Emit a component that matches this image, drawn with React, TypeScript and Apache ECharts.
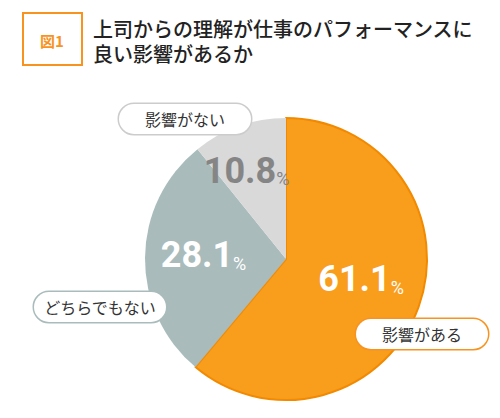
import React, { useEffect, useRef } from "react";
import * as echarts from "echarts";

const categories = ["影響がある", "どちらでもない", "影響がない"];
const values = [61.1, 28.1, 10.8];
const sliceColors = ["#f99d1c", "#a9bbbb", "#d9d9d9"];
const valueTextColors = ["#ffffff", "#ffffff", "#858585"];
const calloutBorders = ["#f7931e", "#a9bbbb", "#cccccc"];
const titleLines = ["上司からの理解が仕事のパフォーマンスに", "良い影響があるか"];
const figureLabel = "図1";

const calloutPos = [
  [422, 334],
  [100, 307],
  [185, 119],
];
const valueOffsets = [
  [6, -5],
  [-9, -3],
  [-15, -19],
];

const NUM_FONT = '"Roboto", "Liberation Sans", sans-serif';
const JP_FONT = '"Noto Sans CJK JP", "Noto Sans", sans-serif';

export default function App() {
  const ref = useRef<HTMLDivElement>(null);
  useEffect(() => {
    if (!ref.current) return;
    const chart = echarts.init(ref.current, null, { renderer: "svg" });
    const valueData = categories.map((name, i) => ({
      name,
      value: values[i],
      itemStyle: {
        color: sliceColors[i],
        borderColor: i === 0 ? "#f28a00" : sliceColors[i],
        borderWidth: i === 0 ? 2 : 0,
      },
      label: {
        rich: {
          v: {
            fontSize: 36,
            fontWeight: "bold",
            fontFamily: NUM_FONT,
            color: valueTextColors[i],
            lineHeight: 40,
          },
          p: {
            fontSize: 18,
            fontWeight: "normal",
            fontFamily: NUM_FONT,
            color: valueTextColors[i],
            lineHeight: 24,
            verticalAlign: "bottom",
            padding: [0, 0, 3, 0],
          },
        },
      },
    }));
    const calloutData = categories.map((name, i) => ({
      name,
      value: values[i],
      itemStyle: { color: "rgba(0,0,0,0)" },
      label: { borderColor: calloutBorders[i] },
    }));
    chart.setOption({
      animation: false,
      graphic: [
        {
          type: "rect",
          shape: { x: 23, y: 13, width: 59, height: 52 },
          style: { fill: "#fff", stroke: "#f7931e", lineWidth: 2 },
        },
        {
          type: "text",
          x: 52,
          y: 40,
          style: {
            text: figureLabel,
            fill: "#f7931e",
            font: `bold 15px ${JP_FONT}`,
            align: "center",
            verticalAlign: "middle",
          },
        },
        {
          type: "text",
          x: 93,
          y: 16,
          style: {
            text: titleLines.join("\n"),
            fill: "#222",
            font: `500 20px ${JP_FONT}`,
            lineHeight: 25,
            verticalAlign: "top",
          },
        },
      ],
      series: [
        {
          type: "pie",
          center: [286, 259],
          radius: 141,
          startAngle: 90,
          clockwise: true,
          silent: true,
          label: {
            show: true,
            position: "inside",
            formatter: (p: any) => `{v|${p.value.toFixed(1)}}{p|%}`,
          },
          labelLine: { show: false },
          labelLayout: (params: any) => ({
            dx: valueOffsets[params.dataIndex][0],
            dy: valueOffsets[params.dataIndex][1],
          }),
          data: valueData,
          z: 2,
        },
        {
          type: "pie",
          center: [286, 259],
          radius: 141,
          startAngle: 90,
          clockwise: true,
          silent: true,
          label: {
            show: true,
            position: "outside",
            formatter: "{b}",
            fontFamily: JP_FONT,
            fontSize: 16,
            color: "#333",
            backgroundColor: "#fff",
            borderWidth: 1.5,
            borderRadius: 16,
            width: 114,
            height: 30,
            lineHeight: 30,
            align: "center",
            overflow: "none",
            padding: [0, 9],
          },
          labelLine: { show: false },
          labelLayout: (params: any) => ({
            x: calloutPos[params.dataIndex][0],
            y: calloutPos[params.dataIndex][1],
            align: "center",
            verticalAlign: "middle",
          }),
          data: calloutData,
          z: 3,
        },
      ],
    });
    return () => chart.dispose();
  }, []);
  return (
    <div
      ref={ref}
      style={{ position: "fixed", left: 0, top: 0, width: 500, height: 418, background: "#fff" }}
    />
  );
}
